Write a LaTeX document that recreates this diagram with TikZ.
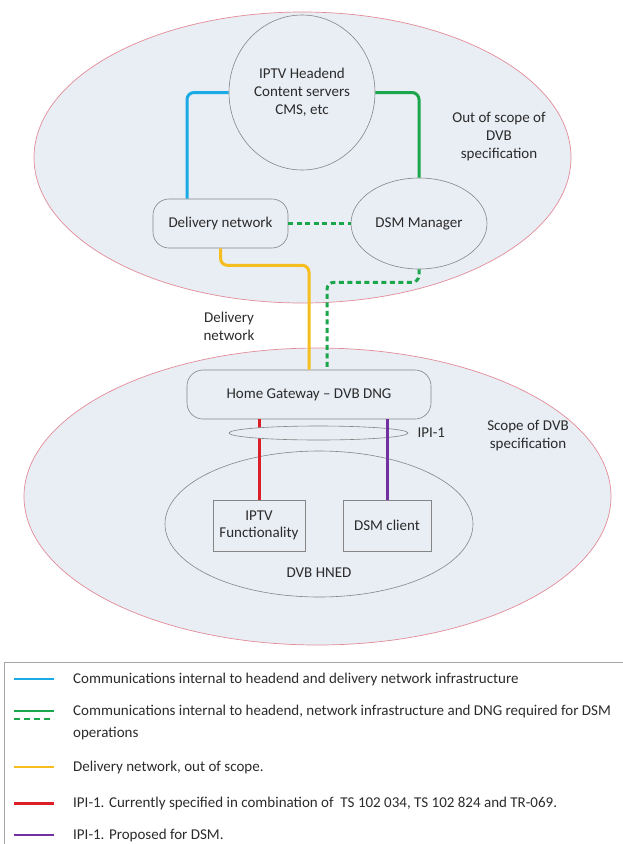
\documentclass[tikz,border=0pt]{standalone}
\usepackage{fontspec}
\setmainfont{Carlito}
\usetikzlibrary{shapes.geometric, positioning, calc}
\definecolor{scopeFill}{HTML}{E9EDF4}
\definecolor{scopeRed}{HTML}{E38C98}
\definecolor{boxGray}{HTML}{858585}
\definecolor{textDark}{HTML}{2B2B2B}
\definecolor{legGray}{HTML}{A6A6A6}
\definecolor{linkBlue}{HTML}{1AABE6}
\definecolor{linkGreen}{HTML}{1AA64A}
\definecolor{linkYellow}{HTML}{F5BE1E}
\definecolor{linkRed}{HTML}{DC1E28}
\definecolor{linkPurple}{HTML}{7030A0}

\begin{document}
\begin{tikzpicture}[x=1pt, y=-1pt, font=\fontsize{15}{18}\selectfont, text=textDark,
    scopeoval/.style={ellipse, draw=scopeRed, line width=0.7pt, fill=scopeFill, inner sep=0pt},
    ent/.style={draw=boxGray, line width=0.6pt, fill=scopeFill, inner sep=0pt, align=center},
    oval/.style={ent, ellipse},
    pill/.style={ent, rectangle, rounded corners=16pt},
    fbox/.style={ent, rectangle},
    lbl/.style={inner sep=0pt, align=center, font=\fontsize{15}{17.5}\selectfont},
    link/.style={line width=3pt, rounded corners=7pt},
    dlink/.style={link, dash pattern=on 5pt off 3.5pt},
    legtext/.style={inner sep=0pt, anchor=west, align=left, font=\fontsize{15}{22}\selectfont}]
    \clip (0,0) rectangle (623,844);
    % --- scope areas ---
    \node[scopeoval, minimum width=587pt, minimum height=297pt] (inscope) at (317.5,496.5) {};
    \node[scopeoval, minimum width=537pt, minimum height=291pt] (outscope) at (302.5,157.5) {};
    \node[lbl, font=\fontsize{15}{18}\selectfont] (outlbl) at (499,137) {Out of scope of\\DVB\\specification};
    \node[lbl] (inlbl) at (528,435.5) {Scope of DVB\\specification};
    \node[lbl] (dnlbl) at (229,326.5) {Delivery\\network};
    % --- headend side ---
    \node[oval, minimum width=146pt, minimum height=155pt]
      (headend) at (302,92.5) {IPTV Headend\\Content servers\\CMS, etc};
    \node[pill, minimum width=135pt, minimum height=49pt] (delivery) at (220.5,223.5) {Delivery network};
    \node[oval, minimum width=136pt, minimum height=91pt] (dsm) at (419,223.5) {DSM Manager};
    \draw[link, linkBlue] (headend.west) -| ([xshift=-33.5pt]delivery.north);
    \draw[link, linkGreen] (headend.east) -| (dsm.north);
    \draw[dlink, linkGreen] (delivery.east) -- (dsm.west);
    % --- home side ---
    \node[pill, minimum width=244pt, minimum height=49pt] (gateway) at (309,394.5) {Home Gateway -- DVB DNG};
    \node[oval, minimum width=308pt, minimum height=146pt] (hned) at (319,524) {};
    \node[lbl] (hnedlbl) at (319,573) {DVB HNED};
    \node[fbox, minimum width=92pt, minimum height=51pt, font=\fontsize{15}{17}\selectfont]
      (iptv) at (259,525.5) {IPTV\\Functionality};
    \node[fbox, minimum width=88pt, minimum height=51pt] (client) at (387,525.5) {DSM client};
    \draw[link, linkYellow] (delivery.south) -- ++(0,17) -| (gateway.north);
    \draw[dlink, linkGreen] (dsm.south) -- ++(0,13) -| ([xshift=18pt]gateway.north);
    \draw[link, linkRed] (iptv.north |- gateway.south) -- (iptv.north);
    \node[oval, minimum width=179pt, minimum height=14pt] (ipi) at (318.5,433) {};
    \node[lbl, right=9pt of ipi] (ipilbl) {IPI-1};
    \draw[link, linkPurple] (client.north |- gateway.south) -- (client.north);
    % --- legend ---
    \draw[legGray, line width=0.6pt] (4,662) rectangle (640,860);
    \node[legtext] (legBlue) at (73,679) {Communications internal to headend and delivery network infrastructure};
    \node[legtext] (legGreen) at (73,722) {Communications internal to headend, network infrastructure and DNG required for DSM\\operations};
    \node[legtext] (legYellow) at (73,767) {Delivery network, out of scope.};
    \node[legtext] (legRed) at (73,803.5) {IPI-1. Currently specified in combination of~ TS 102 034, TS 102 824 and TR-069.};
    \node[legtext] (legPurple) at (73,835) {IPI-1. Proposed for DSM.};
    \draw[linkBlue, line width=2.8pt] ([xshift=-59pt]legBlue.west) -- ++(40,0);
    \draw[linkGreen, line width=2.6pt] ([xshift=-59pt,yshift=11pt]legGreen.west) -- ++(40,0);
    \draw[linkGreen, line width=2.6pt, dash pattern=on 6pt off 4pt] ([xshift=-59pt,yshift=3pt]legGreen.west) -- ++(40,0);
    \draw[linkYellow, line width=2.8pt] ([xshift=-59pt]legYellow.west) -- ++(40,0);
    \draw[linkRed, line width=2.8pt] ([xshift=-59pt]legRed.west) -- ++(40,0);
    \draw[linkPurple, line width=2.8pt] ([xshift=-59pt]legPurple.west) -- ++(40,0);
  \end{tikzpicture}
\end{document}
